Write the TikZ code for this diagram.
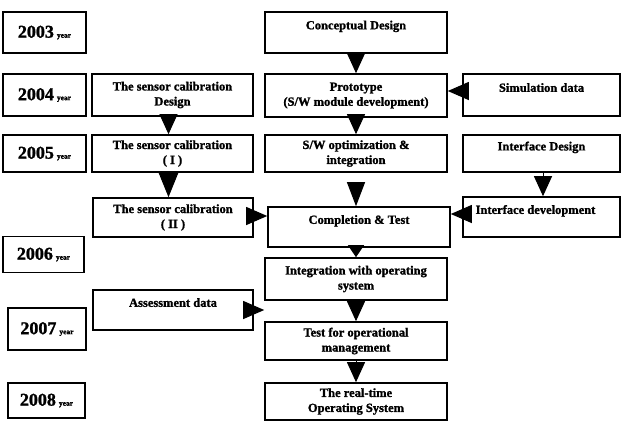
\documentclass[tikz,border=0pt]{standalone}
\usepackage{fontspec}
\setmainfont{Liberation Serif}[BoldFeatures={FakeBold=1.3}]
\usetikzlibrary{arrows.meta,calc}
\tikzset{
  box/.style={draw=black, line width=1.6pt, inner sep=0pt, align=center, fill=white,
    font=\bfseries\fontsize{12.5}{15}\selectfont},
  yearbox/.style={box, font=\bfseries},
  arr/.style={line width=1pt, -{Triangle[width=18pt,length=20pt]}},
  harr/.style={line width=1pt, -{Triangle[width=18pt,length=21pt]}}
}
\newcommand{\yr}[1]{{\fontsize{18}{20}\selectfont #1}\hspace{3pt}{\fontsize{7.5}{8}\selectfont year}}
\begin{document}
\begin{tikzpicture}[x=1pt,y=-1pt]
\useasboundingbox (0,0) rectangle (624,424);
% year boxes
\node[yearbox, minimum width=83pt, minimum height=41pt] (y3) at (44.5,32.5) {\yr{2003}};
\node[yearbox, minimum width=83pt, minimum height=42pt] (y4) at (44.5,95) {\yr{2004}};
\node[yearbox, minimum width=83pt, minimum height=37pt] (y5) at (44.5,153.5) {\yr{2005}};
\node[yearbox, minimum width=81pt, minimum height=36pt] (y6) at (43.5,254.5) {\yr{2006}};
\node[yearbox, minimum width=78pt, minimum height=42pt] (y7) at (47,329) {\yr{2007}};
\node[yearbox, minimum width=77pt, minimum height=35pt] (y8) at (46.5,400.5) {\yr{2008}};
% left column
\node[box, minimum width=161pt, minimum height=42pt] (scd) at (172.5,95) {The sensor calibration\\Design};
\node[box, minimum width=161pt, minimum height=37pt] (sc1) at (172.5,153.5) {The sensor calibration\\( I )};
\node[box, minimum width=160pt, minimum height=39pt] (sc2) at (173,217.5) {The sensor calibration\\( II )};
\node[box, minimum width=160pt, minimum height=40pt] (asd) at (173,310) {Assessment data\\\mbox{}};
% centre column
\node[box, minimum width=182pt, minimum height=41pt] (cd) at (356,32.5) {Conceptual Design\\\mbox{}};
\node[box, minimum width=182pt, minimum height=43pt] (pro) at (356,95.5) {Prototype\\(S/W module development)};
\node[box, minimum width=182pt, minimum height=37pt] (swo) at (356,153.5) {S/W optimization \&\\integration};
\node[box, minimum width=182pt, minimum height=40pt] (ct) at (359,227) {Completion \& Test\\\mbox{}};
\node[box, minimum width=182pt, minimum height=42pt] (iwo) at (356,279) {Integration with operating\\system};
\node[box, minimum width=182pt, minimum height=38pt] (tfo) at (356,341) {Test for operational\\management};
\node[box, minimum width=182pt, minimum height=37pt] (rto) at (356,401.5) {The real-time\\Operating System};
% right column
\node[box, minimum width=157pt, minimum height=42pt] (sim) at (541.5,95) {Simulation data\\\mbox{}};
\node[box, minimum width=157pt, minimum height=37pt] (ifd) at (541.5,153.5) {Interface Design\\\mbox{}};
\node[box, minimum width=157pt, minimum height=40pt] (ifv) at (541.5,217) {Interface development\hspace*{12pt}\\\mbox{}};
% vertical arrows
\draw[arr] (cd.south) -- (cd.south |- pro.north);
\draw[arr] (pro.south) -- (pro.south |- swo.north);
\draw[arr, shorten <=10pt, -{Triangle[width=18pt,length=24pt]}] (swo.south) -- (swo.south |- ct.north);
\draw[line width=1pt, -{Triangle[width=16pt,length=12pt]}] (iwo.north |- ct.south) -- (iwo.north);
\draw[arr] (iwo.south) -- (iwo.south |- tfo.north);
\draw[arr] (tfo.south) -- (tfo.south |- rto.north);
\draw[arr] ([xshift=-4pt]scd.south) -- ([xshift=-4pt]scd.south |- sc1.north);
\draw[line width=1pt, -{Triangle[width=20pt,length=25pt]}] ([xshift=-4pt]sc1.south) -- ([xshift=-4pt]sc1.south |- sc2.north);
\draw[arr] ([xshift=1.5pt]ifd.south) -- ([xshift=1.5pt]ifd.south |- ifv.north);
% horizontal arrows
\draw[harr] ([yshift=4pt]sim.west) -- ([yshift=4pt]sim.west -| pro.east);
\draw[harr] ([yshift=1.5pt]sc2.east) -- ([yshift=1.5pt]sc2.east -| ct.west);
\draw[harr] ([yshift=3pt]ifv.west) -- ([yshift=3pt]ifv.west -| ct.east);
\draw[harr] (asd.east) -- (asd.east -| iwo.west);
\end{tikzpicture}
\end{document}
